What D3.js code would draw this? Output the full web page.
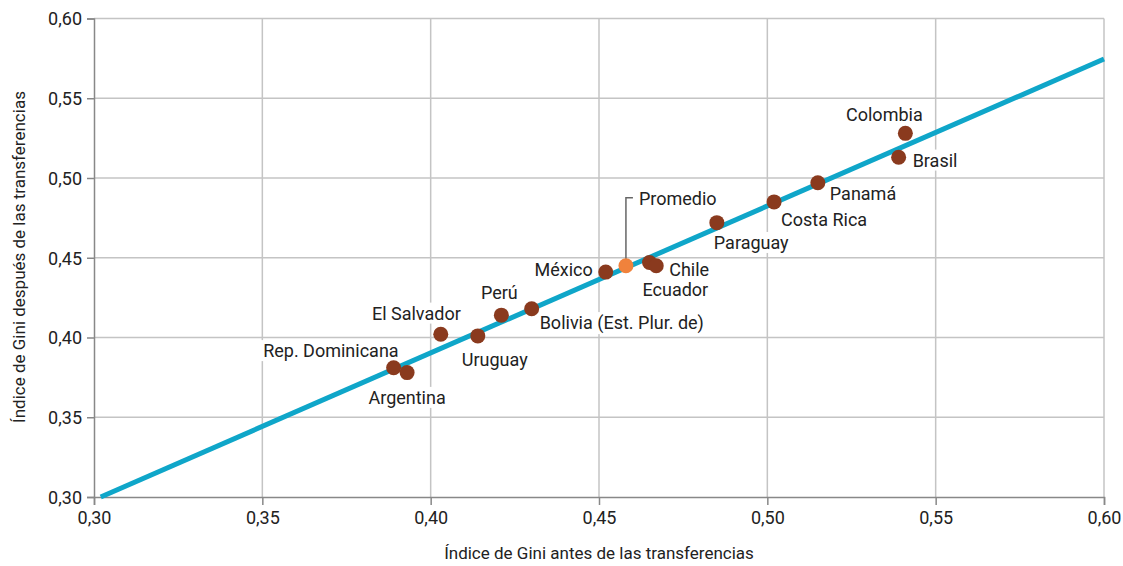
<!DOCTYPE html>
<html>
<head>
<meta charset="utf-8">
<script src="https://cdn.jsdelivr.net/npm/d3@7"></script>
<style>
  html, body { margin: 0; padding: 0; background: #fff; }
  svg { display: block; }
  text { font-family: "Roboto", "DejaVu Sans Condensed", sans-serif; fill: #222; }
</style>
</head>
<body>
<svg id="chart" width="1123" height="566"></svg>
<script>
// ---- Data ----
const countries = ["Rep. Dominicana", "Argentina", "El Salvador", "Uruguay", "Perú",
  "Bolivia (Est. Plur. de)", "México", "Promedio", "Ecuador", "Chile", "Paraguay",
  "Costa Rica", "Panamá", "Colombia", "Brasil"];
const giniBefore = [0.389, 0.393, 0.403, 0.414, 0.421, 0.430, 0.452, 0.458, 0.465, 0.467, 0.485, 0.502, 0.515, 0.541, 0.539];
const giniAfter  = [0.381, 0.378, 0.402, 0.401, 0.414, 0.418, 0.441, 0.445, 0.447, 0.445, 0.472, 0.485, 0.497, 0.528, 0.513];
const xTicks = [0.30, 0.35, 0.40, 0.45, 0.50, 0.55, 0.60];
const yTicks = [0.30, 0.35, 0.40, 0.45, 0.50, 0.55, 0.60];
const fitX = [0.302, 0.60];
const fitY = [0.300, 0.5746];
const xTitle = "Índice de Gini antes de las transferencias";
const yTitle = "Índice de Gini después de las transferencias";

// ---- Label placement (pixel offsets, anchor) ----
const labelPlacement = {
  "Rep. Dominicana": [5, -17, "end"],
  "Argentina": [0, 25, "middle"],
  "El Salvador": [20, -21, "end"],
  "Uruguay": [-16, 24, "start"],
  "Perú": [-2, -22, "middle"],
  "Bolivia (Est. Plur. de)": [8, 14, "start"],
  "México": [-13, -2, "end"],
  "Promedio": [13, -67, "start"],
  "Ecuador": [-7, 27, "start"],
  "Chile": [13, 4, "start"],
  "Paraguay": [-3, 20, "start"],
  "Costa Rica": [7, 18, "start"],
  "Panamá": [12, 11, "start"],
  "Colombia": [-21, -19, "middle"],
  "Brasil": [14, 3, "start"]
};

const svg = d3.select("#chart");
const x = d3.scaleLinear().domain([0.30, 0.60]).range([94, 1104]);
const y = d3.scaleLinear().domain([0.30, 0.60]).range([497, 18.5]);
const fmt = d => d3.format(".2f")(d).replace(".", ",");
const FONT = "Roboto, 'DejaVu Sans Condensed', sans-serif";

// gridlines
const grid = svg.append("g");
grid.selectAll("line.v").data(xTicks.slice(1)).join("line")
  .attr("x1", d => x(d)).attr("x2", d => x(d))
  .attr("y1", y(0.60)).attr("y2", y(0.30))
  .attr("stroke", "#c4c4c4").attr("stroke-width", 1.5);
grid.selectAll("line.h").data(yTicks.slice(1)).join("line")
  .attr("x1", x(0.30)).attr("x2", x(0.60))
  .attr("y1", d => y(d)).attr("y2", d => y(d))
  .attr("stroke", "#c4c4c4").attr("stroke-width", 1.5);

// axes
const xAxis = svg.append("g").attr("transform", `translate(0,${y(0.30)})`)
  .call(d3.axisBottom(x).tickValues(xTicks).tickFormat(fmt).tickSize(8).tickPadding(6));
const yAxis = svg.append("g").attr("transform", `translate(${x(0.30)},0)`)
  .call(d3.axisLeft(y).tickValues(yTicks).tickFormat(fmt).tickSize(7).tickPadding(5));
[xAxis, yAxis].forEach(g => {
  g.select(".domain").attr("stroke", "#888").attr("stroke-width", 1.5);
  g.selectAll(".tick line").attr("stroke", "#888").attr("stroke-width", 1.5);
  g.selectAll(".tick text").attr("font-size", 18).attr("fill", "#222")
    .style("font-family", FONT);
});
yAxis.selectAll(".tick text").attr("dy", "0.35em");

// axis titles
svg.append("text").attr("x", 599).attr("y", 559).attr("text-anchor", "middle")
  .attr("font-size", 17).text(xTitle);
svg.append("text").attr("transform", `translate(25,${257}) rotate(-90)`)
  .attr("text-anchor", "middle").attr("font-size", 17).text(yTitle);

const data = countries.map((c, i) => ({ name: c, bx: giniBefore[i], ay: giniAfter[i] }));

// labels with white backgrounds
const labG = svg.append("g");
const bgG = labG.append("g");
const txtG = labG.append("g");
data.forEach(d => {
  const [dx, dy, anchor] = labelPlacement[d.name];
  const t = txtG.append("text")
    .attr("x", x(d.bx) + dx).attr("y", y(d.ay) + dy).attr("dy", "0.35em")
    .attr("text-anchor", anchor).attr("font-size", 18).text(d.name);
  const bb = t.node().getBBox();
  bgG.append("rect").attr("x", bb.x - 3).attr("y", bb.y)
    .attr("width", bb.width + 6).attr("height", bb.height).attr("fill", "#fff");
});

// Promedio leader
const prom = data.find(d => d.name === "Promedio");
const [pdx, pdy] = labelPlacement["Promedio"];
svg.append("path")
  .attr("d", `M${x(prom.bx)},${y(prom.ay) - 6} V${y(prom.ay) + pdy - 1} H${x(prom.bx) + pdx - 6}`)
  .attr("fill", "none").attr("stroke", "#666").attr("stroke-width", 1.5);

// fit line
svg.append("line")
  .attr("x1", x(fitX[0])).attr("y1", y(fitY[0]))
  .attr("x2", x(fitX[1])).attr("y2", y(fitY[1]))
  .attr("stroke", "#0fa6c9").attr("stroke-width", 5);

// points
svg.append("g").selectAll("circle").data(data).join("circle")
  .attr("cx", d => x(d.bx)).attr("cy", d => y(d.ay)).attr("r", 7.5)
  .attr("fill", d => d.name === "Promedio" ? "#f0823c" : "#8a3a1e");
</script>
</body>
</html>
